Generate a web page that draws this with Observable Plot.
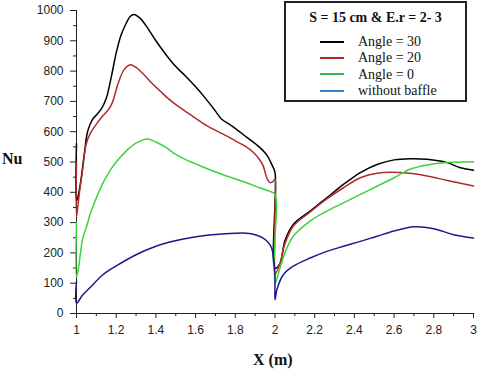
<!DOCTYPE html>
<html>
<head>
<meta charset="utf-8">
<script src="https://cdn.jsdelivr.net/npm/d3@7"></script>
<script src="https://cdn.jsdelivr.net/npm/@observablehq/plot@0.6"></script>
<style>
  html, body { margin: 0; padding: 0; background: #fff; }
  #wrap { position: relative; width: 480px; height: 370px; overflow: hidden; }
  .lbl { position: absolute; font-family: "Liberation Serif", "Times New Roman", serif; font-weight: bold; color: #111; white-space: nowrap; }
  #legend { position: absolute; left: 284px; top: 1px; width: 179px; height: 97px; border: 2px solid #222; background: #fff; font-family: "Liberation Serif", "Times New Roman", serif; color: #111; }
  #legend .title { position: absolute; left: 0; width: 100%; top: 7px; text-align: center; font-weight: bold; font-size: 14px; }
  #legend .row { position: absolute; left: 34px; font-size: 14px; line-height: 16px; }
  #legend .sw { display: inline-block; width: 24px; height: 0; border-top: 2px solid; vertical-align: middle; margin-right: 14px; position: relative; top: -1px; }
</style>
</head>
<body>
<div id="wrap"></div>
<script>
// ---- data ----
const seriesNames = ["Angle = 30", "Angle = 20", "Angle = 0", "without baffle"];
const seriesColors = ["#000000", "#b22a2a", "#3ad43a", "#1a1a8e"];
const legendColors = ["#000000", "#b22a2a", "#3ab55a", "#2f86d0"];

const angle30 = [[1,560],[1,370],[1.012,400],[1.024,448],[1.04,530],[1.057,603],[1.08,640],[1.1,655],[1.125,675],[1.15,710],[1.175,780],[1.2,860],[1.225,920],[1.25,957],[1.27,980],[1.29,987],[1.32,975],[1.35,950],[1.4,900],[1.45,855],[1.5,815],[1.55,783],[1.6,748],[1.65,710],[1.7,668],[1.73,642],[1.78,620],[1.857,582],[1.92,550],[1.96,522],[1.985,490],[2.0,465],[2.0,150],[2.025,165],[2.05,240],[2.092,294],[2.177,338],[2.261,382],[2.345,426],[2.43,465],[2.514,492],[2.6,507],[2.68,511],[2.766,509],[2.867,498],[2.934,481],[3.0,473]];
const angle20 = [[1,500],[1,320],[1.008,360],[1.015,400],[1.03,470],[1.049,559],[1.07,595],[1.1,625],[1.13,650],[1.16,672],[1.18,695],[1.21,760],[1.24,805],[1.271,821],[1.3,812],[1.34,788],[1.38,760],[1.42,735],[1.47,705],[1.52,680],[1.587,650],[1.656,620],[1.72,598],[1.756,586],[1.8,570],[1.85,552],[1.89,532],[1.92,510],[1.94,488],[1.96,445],[1.975,432],[1.99,435],[2.0,443],[2.0,320],[2.0,130],[2.025,165],[2.05,230],[2.092,288],[2.177,335],[2.261,378],[2.345,415],[2.43,448],[2.514,463],[2.63,465],[2.766,454],[2.867,439],[3.0,421]];
const angle0 = [[1,300],[1,120],[1.01,150],[1.02,200],[1.032,249],[1.049,283],[1.07,330],[1.1,382],[1.133,430],[1.167,470],[1.2,500],[1.25,536],[1.3,562],[1.355,576],[1.4,566],[1.45,548],[1.5,525],[1.55,508],[1.6,494],[1.65,480],[1.7,467],[1.756,454],[1.85,433],[1.924,415],[1.97,404],[2.0,393],[2.0,238],[2.0,100],[2.025,150],[2.05,200],[2.092,255],[2.177,305],[2.261,338],[2.345,365],[2.43,393],[2.514,420],[2.6,448],[2.68,476],[2.766,490],[2.867,498],[3.0,501]];
const noBaffle = [[1,106],[1,34],[1.03,60],[1.066,84],[1.133,128],[1.2,157],[1.3,194],[1.4,222],[1.47,236],[1.587,252],[1.7,261],[1.8,265],[1.857,265],[1.9,260],[1.94,249],[1.965,235],[1.983,216],[1.995,170],[2.0,128],[2.0,45],[2.01,80],[2.042,128],[2.092,156],[2.177,183],[2.261,205],[2.345,222],[2.43,238],[2.514,255],[2.6,272],[2.7,286],[2.8,280],[2.9,260],[3.0,249]];

const xMajorTicks = [1, 1.2, 1.4, 1.6, 1.8, 2, 2.2, 2.4, 2.6, 2.8, 3];
const xMinorTicks = [1.1, 1.3, 1.5, 1.7, 1.9, 2.1, 2.3, 2.5, 2.7, 2.9];
const yMajorTicks = [0, 100, 200, 300, 400, 500, 600, 700, 800, 900, 1000];
const yMinorTicks = [50, 150, 250, 350, 450, 550, 650, 750, 850, 950];

const titleText = "S = 15 cm & E.r = 2- 3";
const xLabel = "X (m)";
const yLabel = "Nu";

// ---- chart ----
const allSeries = [angle30, angle20, angle0, noBaffle];
const rows = [];
allSeries.forEach((s, i) => s.forEach(([x, y]) => rows.push({x, y, series: seriesNames[i]})));

const tickFont = "Liberation Sans, Arial, sans-serif";

const chart = Plot.plot({
  width: 480,
  height: 370,
  marginLeft: 76,
  marginRight: 7,
  marginTop: 10,
  marginBottom: 57,
  style: {fontFamily: tickFont, fontSize: "12px", color: "#222", background: "#fff"},
  x: {domain: [1, 3]},
  y: {domain: [0, 1000]},
  color: {domain: seriesNames, range: seriesColors},
  marks: [
    Plot.axisY(yMinorTicks, {tickSize: 3, text: null, label: null, stroke: "#222"}),
    Plot.axisY(yMajorTicks, {tickSize: 6, tickPadding: 7, label: null, stroke: "#222", fontSize: 12, tickFormat: d => String(d)}),
    Plot.axisX(xMinorTicks, {tickSize: 3, text: null, label: null, stroke: "#222"}),
    Plot.axisX(xMajorTicks, {tickSize: 5, tickPadding: 7, label: null, stroke: "#222", fontSize: 12, tickFormat: d => String(+d.toFixed(1))}),
    Plot.ruleX([1], {stroke: "#222"}),
    Plot.ruleY([0], {stroke: "#222"}),
    Plot.line(rows, {x: "x", y: "y", z: "series", stroke: "series", strokeWidth: 1.5, curve: "catmull-rom"})
  ]
});

const wrap = document.getElementById("wrap");
wrap.appendChild(chart);

// axis titles
const nu = document.createElement("div");
nu.className = "lbl";
nu.textContent = yLabel;
nu.style.cssText = "left:2px; top:150px; font-size:16px;";
wrap.appendChild(nu);

const xl = document.createElement("div");
xl.className = "lbl";
xl.textContent = xLabel;
xl.style.cssText = "left:253px; top:351px; font-size:16px;";
wrap.appendChild(xl);

// legend
const lg = document.createElement("div");
lg.id = "legend";
const t = document.createElement("div");
t.className = "title";
t.textContent = titleText;
lg.appendChild(t);
seriesNames.forEach((name, i) => {
  const r = document.createElement("div");
  r.className = "row";
  r.style.top = (31 + i * 16.3) + "px";
  const sw = document.createElement("span");
  sw.className = "sw";
  sw.style.borderTopColor = legendColors[i];
  r.appendChild(sw);
  r.appendChild(document.createTextNode(name));
  lg.appendChild(r);
});
wrap.appendChild(lg);
</script>
</body>
</html>
